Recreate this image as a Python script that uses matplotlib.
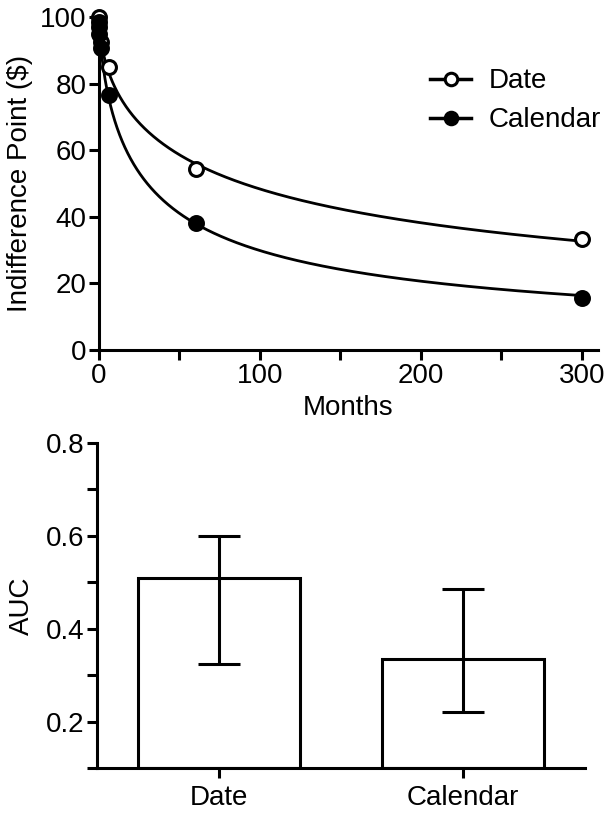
import numpy as np
import matplotlib
matplotlib.use("Agg")
import matplotlib.pyplot as plt
from matplotlib.ticker import MultipleLocator

plt.rcParams['font.family'] = ['Liberation Sans', 'DejaVu Sans']
plt.rcParams['font.size'] = 20

# ---- data ----
delays = [0.033, 0.23, 1, 6, 60, 300]           # months
date_vals = [100, 97, 92.6, 85, 54.5, 33.2]
calendar_vals = [98.5, 95, 90.7, 76.7, 38.3, 15.7]

groups = ["Date", "Calendar"]
auc_mean = [0.51, 0.335]
auc_low = [0.325, 0.221]
auc_high = [0.60, 0.486]

LW = 2.2


def fit_curve(d, v):
    """Least-squares fit of hyperboloid and Rachlin discounting models; keep the better."""
    d = np.asarray(d, float)
    v = np.asarray(v, float)
    best = None
    ks = np.logspace(-3, 1, 300)
    ss = np.linspace(0.05, 2.0, 300)
    for k in ks:
        for s in ss:
            for model in ('hyp', 'rach'):
                if model == 'hyp':
                    pred = 100.0 / (1 + k * d) ** s
                else:
                    pred = 100.0 / (1 + k * d ** s)
                err = np.sum((pred - v) ** 2)
                if best is None or err < best[0]:
                    best = (err, model, k, s)
    _, model, k, s = best
    if model == 'hyp':
        return lambda x: 100.0 / (1 + k * x) ** s
    return lambda x: 100.0 / (1 + k * x ** s)


fig = plt.figure(figsize=(6.12, 8.14), dpi=100)

# ---- top panel ----
ax1 = fig.add_axes([0.1618, 0.570, 0.815, 0.409])
xs = np.linspace(0, 300, 1500)
for vals, face, lab in [(date_vals, 'white', 'Date'), (calendar_vals, 'black', 'Calendar')]:
    f = fit_curve(delays, vals)
    ax1.plot(xs, f(xs), color='black', lw=2.0, clip_on=False, zorder=2)
    ax1.plot(delays, vals, 'o', ms=10, mfc=face, mec='black', mew=2.2, clip_on=False, zorder=3)
    ax1.plot([], [], '-o', color='black', lw=2.5, ms=9, mfc=face, mec='black', mew=2.2, label=lab)

ax1.set_xlim(0, 310)
ax1.set_ylim(0, 100)
ax1.xaxis.set_major_locator(MultipleLocator(100))
ax1.xaxis.set_minor_locator(MultipleLocator(50))
ax1.yaxis.set_major_locator(MultipleLocator(20))
ax1.set_xlabel("Months", labelpad=5)
ax1.set_ylabel("Indifference Point ($)", labelpad=5)
leg = ax1.legend(loc='upper left', bbox_to_anchor=(0.663, 0.846), frameon=False,
                 borderaxespad=0, borderpad=0,
                 handlelength=1.5, handletextpad=0.62, labelspacing=0.47)

# ---- bottom panel ----
ax2 = fig.add_axes([0.1585, 0.0565, 0.7975, 0.3993])
pos = np.arange(len(groups))
yerr = [np.array(auc_mean) - np.array(auc_low), np.array(auc_high) - np.array(auc_mean)]
ax2.bar(pos, np.array(auc_mean) - 0.1, bottom=0.1, width=0.665, color='white',
        edgecolor='black', linewidth=LW, zorder=2)
ax2.errorbar(pos, auc_mean, yerr=yerr, fmt='none', ecolor='black', elinewidth=LW,
             capsize=15, capthick=LW, zorder=3)
ax2.set_xlim(-0.5, 1.5)
ax2.set_ylim(0.1, 0.8)
ax2.set_xticks(pos)
ax2.set_xticklabels(groups)
ax2.yaxis.set_minor_locator(MultipleLocator(0.1))
ax2.set_yticks([0.2, 0.4, 0.6, 0.8])
ax2.set_yticklabels(["0.2", "0.4", "0.6", "0.8"])
ax2.set_ylabel("AUC", labelpad=8)

for ax in (ax1, ax2):
    for side in ('top', 'right'):
        ax.spines[side].set_visible(False)
    for side in ('left', 'bottom'):
        ax.spines[side].set_linewidth(LW)
    ax.tick_params(which='major', direction='out', length=7, width=LW, pad=2)
    ax.tick_params(which='minor', direction='out', length=7, width=LW)
ax2.tick_params(axis='x', pad=5)

fig.savefig("out.png", dpi=100)
